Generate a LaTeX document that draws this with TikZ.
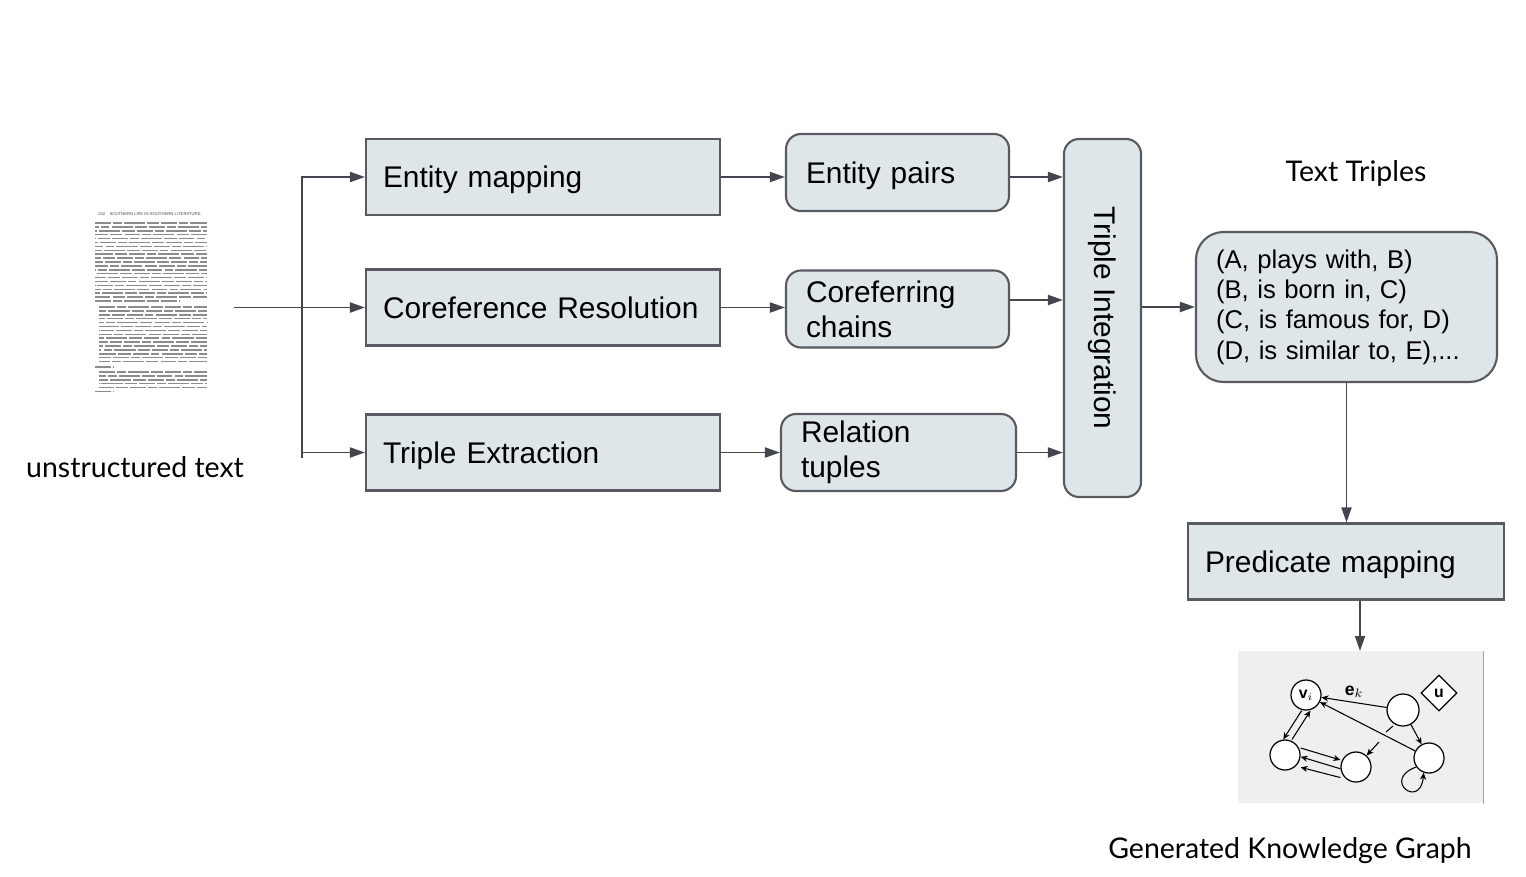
\documentclass[tikz,border=0pt]{standalone}
\usepackage{xcolor}
\usepackage{amsmath}
\usepackage{amssymb}
\usepackage{fontspec}
\setmainfont{Liberation Sans}
\newfontfamily\latofont{Lato}
\usepackage{tikz}
\usetikzlibrary{shapes.geometric, arrows.meta, positioning, calc}

\definecolor{boxfill}{RGB}{223,230,234}
\definecolor{boxline}{RGB}{89,89,96}
\definecolor{flowline}{RGB}{69,69,79}
\definecolor{imgback}{RGB}{239,239,239}

\begin{document}
\begin{tikzpicture}[
        x=1cm, y=1cm,
        font=\fontsize{17}{20}\selectfont,
        step_box/.style = {rectangle, draw=boxline, fill=boxfill, line width=1.2pt, minimum height=1.52cm, text width=6.4cm, text depth=0pt, inner xsep=0.34cm, align=left},
        result_box/.style = {rectangle, draw=boxline, fill=boxfill, line width=1.2pt, rounded corners=0.3cm, minimum height=1.54cm, inner xsep=0.4cm, align=left},
        flow/.style = {draw=flowline, line width=1.1pt, -{Triangle[length=0.3cm, width=0.2cm]}},
        bus/.style = {draw=flowline, line width=1.1pt},
        caption_text/.style = {font=\latofont\fontsize{16.2}{19}\selectfont, text=black},
        doc_line/.style = {draw=black!45, line width=0.03cm, dash pattern=on 9pt off 1.2pt on 5pt off 1.2pt on 12pt off 1.2pt on 7pt off 1.2pt},
        kg_node/.style = {circle, draw=black, fill=white, line width=0.7pt, minimum size=0.6cm, inner sep=0pt, font=\fontsize{9}{10}\selectfont},
        kg_edge/.style = {draw=black, line width=0.6pt, -{Stealth[length=4pt, width=3.5pt]}}
    ]
    \useasboundingbox (0,0) rectangle (30.52,-17.52);

    % Input document (scanned page)
    \node [rectangle, minimum width=2.94cm, minimum height=4.2cm] (doc) at (3.2,-6.1) {};
    \node [font=\fontsize{2.4}{3}\selectfont, text=black!70, inner sep=0pt] (doc_head) at (3.0,-4.28) {222\quad SOUTHERN LIFE IN SOUTHERN LITERATURE.};
    \foreach \i in {0,...,19}
        \draw [doc_line, dash phase=\i*7pt] (1.9,-4.46-\i*0.078) -- (4.14,-4.46-\i*0.078);
    \draw [doc_line] (1.9,-6.02) -- (3.6,-6.02);
    \foreach \i in {0,...,14}
        \draw [doc_line, dash phase=\i*11pt] (1.98,-6.14-\i*0.078) -- (4.14,-6.14-\i*0.078);
    \draw [doc_line] (1.9,-7.34) -- (2.26,-7.34);
    \foreach \i in {0,...,4}
        \draw [doc_line, dash phase=\i*5pt] (1.98,-7.44-\i*0.078) -- (4.14,-7.44-\i*0.078);
    \draw [doc_line] (1.9,-7.83) -- (2.26,-7.83);
    \node [caption_text] (doc_label) at (2.7,-9.34) {unstructured text};

    % Extraction steps
    \node [step_box] (ent_map) at (10.86,-3.54) {Entity mapping};
    \node [step_box] (coref) at (10.86,-6.15) {Coreference Resolution};
    \node [step_box] (trip_ext) at (10.86,-9.05) {Triple Extraction};

    % Intermediate results
    \node [result_box, text width=3.66cm, text depth=0pt] (ent_pairs) at (17.95,-3.45) {Entity pairs};
    \node [result_box, text width=3.66cm] (coref_chains) at (17.95,-6.18) {Coreferring\\chains};
    \node [result_box, text width=3.9cm] (rel_tuples) at (17.97,-9.05) {Relation\\tuples};

    % Integration
    \node [rectangle, draw=boxline, fill=boxfill, line width=1.2pt, rounded corners=0.3cm, minimum width=1.54cm, minimum height=7.16cm] (trip_int) at (22.05,-6.36) {};
    \node [rotate=-90] at (trip_int.center) {Triple Integration};

    % Triples and mapping
    \node [caption_text] (triples_label) at (27.12,-3.46) {Text Triples};
    \node [result_box, rounded corners=0.55cm, minimum height=3.0cm, text width=5.22cm, font=\fontsize{14.6}{17.3}\selectfont] (triples) at (26.93,-6.14) {(A, plays with, B)\\(B, is born in, C)\\(C, is famous for, D)\\(D, is similar to, E),...};
    \node [step_box, text width=5.64cm] (pred_map) at (26.92,-11.23) {Predicate mapping};

    % Generated graph (picture)
    \node [rectangle, fill=imgback, minimum width=4.9cm, minimum height=3.04cm, anchor=north west] (kg_img) at (24.76,-13.02) {};
    \draw [black!35, line width=0.5pt] (kg_img.north east) -- (kg_img.south east);
    \node [kg_node] (v_i) at (26.12,-13.9) {$\mathbf{v}_i$};
    \node [kg_node, minimum size=0.64cm] (v_tr) at (28.06,-14.2) {};
    \node [kg_node] (v_lb) at (25.7,-15.1) {};
    \node [kg_node] (v_mb) at (27.12,-15.34) {};
    \node [kg_node] (v_rb) at (28.58,-15.16) {};
    \node [diamond, draw=black, fill=white, line width=0.7pt, inner sep=1.5pt, minimum size=0.72cm, font=\fontsize{9}{10}\selectfont] (u_node) at (28.78,-13.86) {$\mathbf{u}$};
    \draw [kg_edge] (v_tr) -- (v_i) node [midway, above, yshift=-1pt] {\fontsize{10}{10}\selectfont$\mathbf{e}_k$};
    \draw [kg_edge] (v_rb) -- (v_i);
    \draw [kg_edge] ([xshift=-2.5pt]v_i.south) -- ([xshift=-1pt]v_lb.north);
    \draw [kg_edge] ([xshift=4pt]v_lb.north) -- ([xshift=2.5pt]v_i.south);
    \draw [kg_edge] ([yshift=4pt]v_lb.east) -- ([yshift=4pt]v_mb.west);
    \draw [kg_edge] ([yshift=-1pt]v_mb.west) -- ([yshift=-1pt]v_lb.east);
    \draw [kg_edge] ([yshift=-6pt]v_mb.west) -- ([yshift=-7pt]v_lb.east);
    \draw [kg_edge] (v_tr) -- (v_rb);
    \draw [black, line width=0.6pt] (27.86,-14.52) -- (27.72,-14.64);
    \draw [kg_edge] (27.58,-14.84) -- (v_mb);
    \draw [kg_edge] (v_rb.215) .. controls +(200:0.75) and +(265:0.75) .. (v_rb.250);
    \node [caption_text] (kg_label) at (25.8,-17.02) {Generated Knowledge Graph};

    % Connections
    \coordinate (bus_top) at (6.04,-3.54);
    \coordinate (bus_bot) at (6.04,-9.05);
    \draw [bus] ([yshift=0.6pt]bus_top) -- ([yshift=-3pt]bus_bot);
    \draw [flow] (doc.east |- coref.west) -- (coref.west);
    \draw [flow] (bus_top) -- (ent_map.west);
    \draw [flow] (bus_bot) -- (trip_ext.west);

    \draw [flow] (ent_map.east) -- (ent_map.east -| ent_pairs.west);
    \draw [flow] (coref.east) -- (coref.east -| coref_chains.west);
    \draw [flow] (trip_ext.east) -- (trip_ext.east -| rel_tuples.west);

    \draw [flow] (ent_pairs.east |- ent_map.east) -- (ent_map.east -| trip_int.west);
    \draw [flow] ($(coref_chains.east)+(0,0.18)$) -- ($(coref_chains.east -| trip_int.west)+(0,0.18)$);
    \draw [flow] (rel_tuples.east) -- (rel_tuples.east -| trip_int.west);

    \draw [flow] (trip_int.east |- triples.west) -- (triples.west);
    \draw [flow] (triples.south) -- (triples.south |- pred_map.north);
    \coordinate (pred_out) at ($(pred_map.south)+(0.28,0)$);
    \draw [flow] (pred_out) -- (pred_out |- kg_img.north);

    \end{tikzpicture}
\end{document}
